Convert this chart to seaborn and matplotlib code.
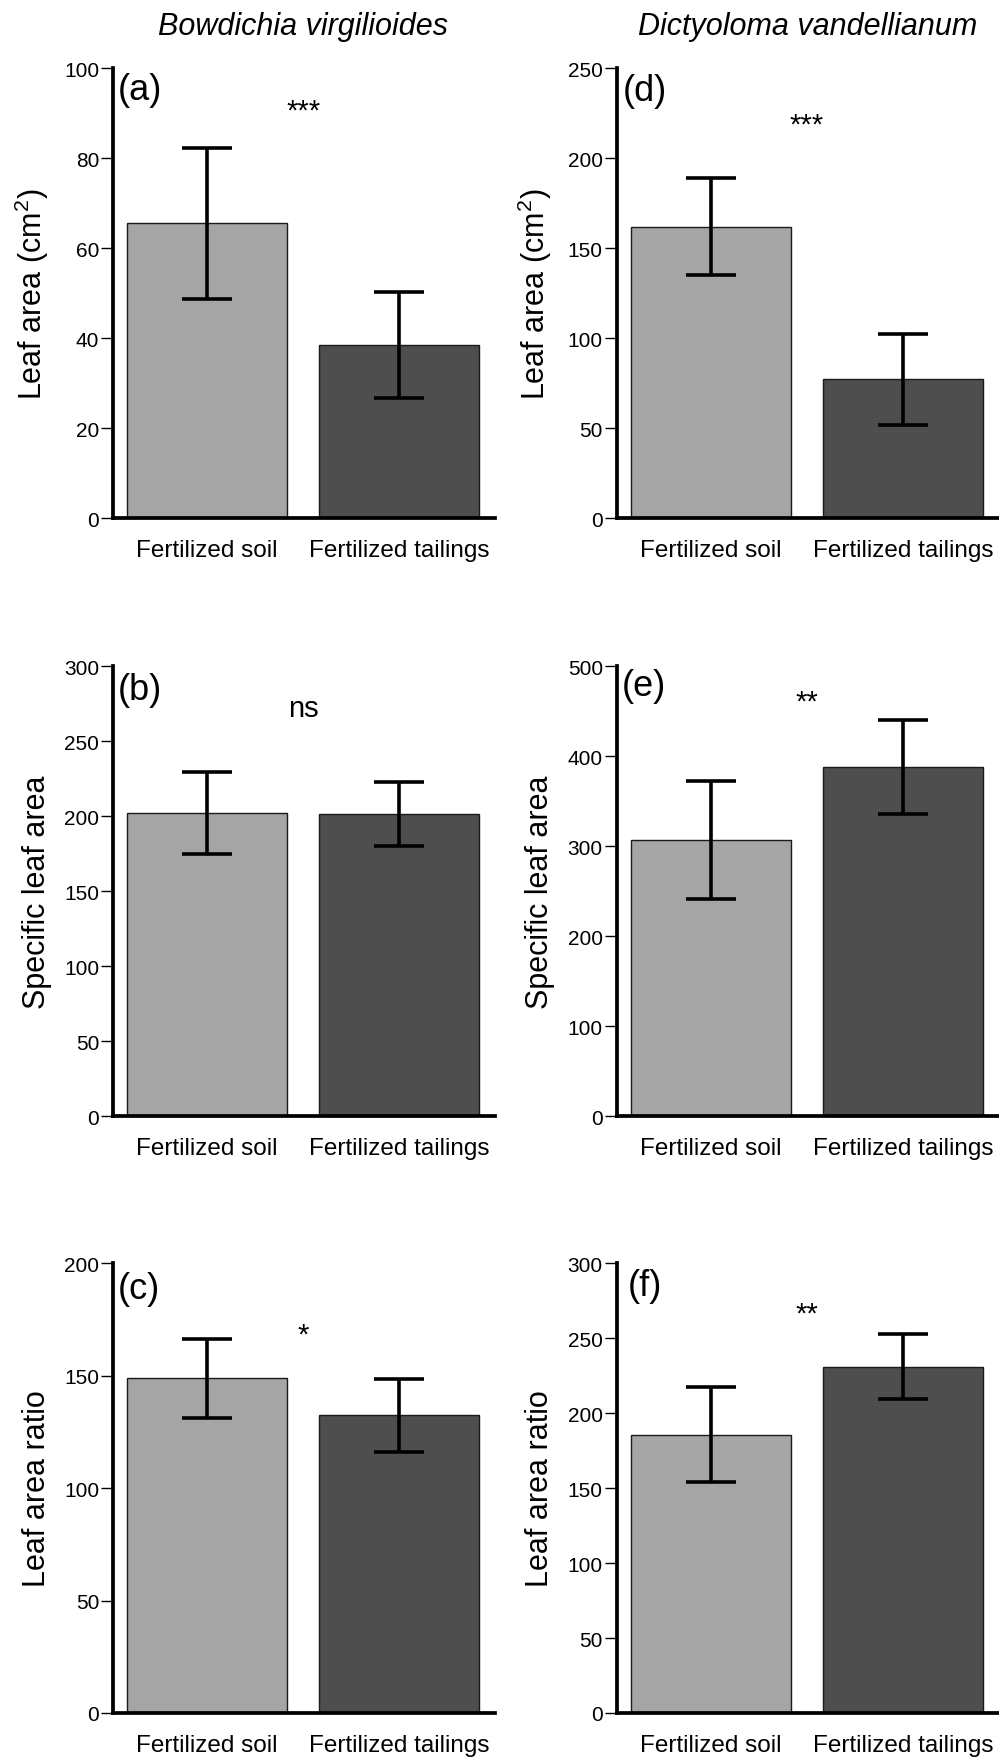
import numpy as np
import pandas as pd
import matplotlib
matplotlib.use('Agg')
import matplotlib.pyplot as plt
import seaborn as sns

# data (mean and symmetric error bar half-length)
treatments = ['Fertilized soil', 'Fertilized tailings']
species = ['Bowdichia virgilioides', 'Dictyoloma vandellianum']

# Bowdichia virgilioides
la_bow = [65.5, 38.5]
la_bow_err = [16.8, 11.7]
sla_bow = [202.2, 201.3]
sla_bow_err = [27.3, 21.5]
lar_bow = [148.8, 132.3]
lar_bow_err = [17.5, 16.3]

# Dictyoloma vandellianum
la_dic = [161.9, 77.2]
la_dic_err = [27.0, 25.3]
sla_dic = [307.1, 387.8]
sla_dic_err = [65.5, 52.6]
lar_dic = [185.4, 231.0]
lar_dic_err = [31.7, 21.6]

panel_letters = ['(a)', '(b)', '(c)', '(d)', '(e)', '(f)']
signif = ['***', 'ns', '*', '***', '**', '**']
ylabels = ['Leaf area (cm$^{2}$)', 'Specific leaf area', 'Leaf area ratio']
ymax = [100, 300, 200, 250, 500, 300]
ystep = [20, 50, 50, 50, 100, 50]

means = [la_bow, sla_bow, lar_bow, la_dic, sla_dic, lar_dic]
errs = [la_bow_err, sla_bow_err, lar_bow_err, la_dic_err, sla_dic_err, lar_dic_err]

# style
sns.set_style('ticks')
plt.rcParams['font.family'] = ['Liberation Sans', 'DejaVu Sans']
plt.rcParams['mathtext.fontset'] = 'custom'
plt.rcParams['mathtext.rm'] = 'Liberation Sans'
plt.rcParams['mathtext.it'] = 'Liberation Sans:italic'
plt.rcParams['text.color'] = 'black'
plt.rcParams['axes.labelcolor'] = 'black'
plt.rcParams['xtick.color'] = 'black'
plt.rcParams['ytick.color'] = 'black'

bar_colors = ['#a5a5a5', '#4e4e4e']

fig = plt.figure(figsize=(9.99, 17.65), dpi=100)

col_left = [0.1131, 0.6173]
ax_w = 0.3826
row_bottom = [0.7059, 0.3671, 0.0289]
ax_h = 0.2549

# text placement (axes fraction)
sig_y = [0.887, 0.89, 0.823, 0.858, 0.904, 0.869]
lab_x = [0.013, 0.013, 0.013, 0.016, 0.013, 0.029]
lab_y = [0.953, 0.949, 0.943, 0.951, 0.956, 0.951]
ylab_x = [-0.213, -0.2, -0.2, -0.214, -0.2, -0.2]

for i in range(6):
    col = i // 3
    row = i % 3
    ax = fig.add_axes([col_left[col], row_bottom[row], ax_w, ax_h])

    df = pd.DataFrame({'treatment': treatments, 'value': means[i]})
    sns.barplot(data=df, x='treatment', y='value', hue='treatment',
                palette=bar_colors, errorbar=None, width=0.833,
                edgecolor='#1a1a1a', linewidth=1.0, legend=False, ax=ax)
    ax.errorbar(x=[0, 1], y=means[i], yerr=errs[i], fmt='none',
                ecolor='black', elinewidth=2.6, capsize=18, capthick=2.6,
                zorder=5)

    ax.set_xlim(-0.49, 1.5)
    ax.set_ylim(0, ymax[i])
    ax.set_yticks(np.arange(0, ymax[i] + 1, ystep[i]))
    ax.set_xlabel('')
    ax.set_ylabel('')

    for s in ['top', 'right']:
        ax.spines[s].set_visible(False)
    for s in ['left', 'bottom']:
        ax.spines[s].set_linewidth(2.7)
        ax.spines[s].set_color('black')
        ax.spines[s].set_capstyle('projecting')

    ax.tick_params(axis='y', length=9, width=1.0, pad=1, labelsize=15,
                   color='black', labelcolor='black')
    ax.tick_params(axis='x', length=0, pad=15, labelsize=17.5,
                   labelcolor='black')

    ax.text(ylab_x[i], 0.5, ylabels[row], transform=ax.transAxes,
            rotation=90, ha='center', va='center', fontsize=22,
            color='black')
    ax.text(lab_x[i], lab_y[i], panel_letters[i], transform=ax.transAxes,
            ha='left', va='center', fontsize=26, color='black')
    ax.text(0.5, sig_y[i], signif[i], transform=ax.get_xaxis_transform(),
            ha='center', va='baseline', fontsize=21, color='black')

fig.text(0.303, 0.980, species[0], ha='center', va='baseline',
         fontsize=22, style='italic', color='black')
fig.text(0.808, 0.980, species[1], ha='center', va='baseline',
         fontsize=22, style='italic', color='black')

fig.savefig('out.png', dpi=100, facecolor='white')
